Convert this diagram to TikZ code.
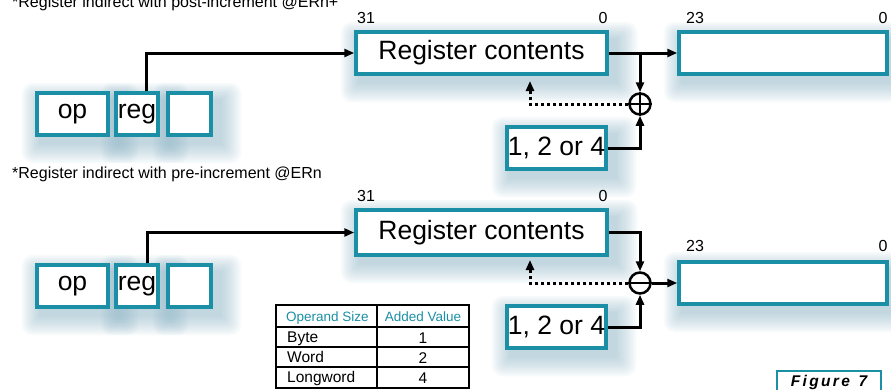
\documentclass[tikz,border=0pt]{standalone}
\usepackage{fontspec}
\setmainfont{Liberation Sans}
\usetikzlibrary{arrows.meta,backgrounds,calc}
\definecolor{boxteal}{HTML}{1A8FA5}
\definecolor{hazecol}{HTML}{86AFC1}

% soft bluish shadow below and to the right of a box
\newcommand\boxhaze[1]{%
  \foreach \k in {0,...,11}{%
    \fill[hazecol,opacity=0.055,rounded corners=\k pt]
      ($(#1.south west)+(4-1.6*\k,8+1.7*\k)$) rectangle
      ($(#1.north east)+(9+1.8*\k,8-1.5*\k)$);}}

\begin{document}
\begin{tikzpicture}[x=1pt,y=-1pt,
  box/.style={draw=boxteal,line width=3.5pt,fill=white,inner sep=0pt,
    font=\fontsize{26.5}{30}\selectfont},
  lbl/.style={inner sep=0pt,font=\fontsize{16}{18}\selectfont},
  conn/.style={line width=3pt,-{Triangle[length=10pt,width=8pt]}},
  dotline/.style={line width=3pt,dash pattern=on 3pt off 3pt,
    -{Triangle[length=10pt,width=8pt]}},
  opcirc/.style={circle,draw,line width=2.5pt,fill=white,minimum size=21pt,inner sep=0pt},
  tabtxt/.style={inner sep=0pt,anchor=base west,font=\fontsize{15.5}{17}\selectfont},
  tabval/.style={inner sep=0pt,anchor=base,font=\fontsize{15.5}{17}\selectfont},
  tabhead/.style={inner sep=0pt,anchor=base,text=boxteal,font=\fontsize{13.5}{15}\selectfont}]
\useasboundingbox (0,0) rectangle (891,389);
\clip (0,0) rectangle (891,389);

% ---------- post-increment ----------
\node[lbl,anchor=base west] (tA) at (12,7)
  {*Register indirect with post-increment @ERn+};
\node[lbl] (hA) at (366,18) {31};
\node[lbl] (lA) at (603,18) {0};
\node[lbl] (hoA) at (695,18) {23};
\node[lbl] (loA) at (883,18) {0};

\node[box,minimum width=251,minimum height=42] (regA) at (481.5,53) {Register contents};
\node[box,minimum width=208,minimum height=42] (outA) at (783,53) {};
\node[box,minimum width=71,minimum height=42] (opA) at (72.5,114) {op};
\node[box,minimum width=42,minimum height=42] (rgA) at (137,114) {reg};
\node[box,minimum width=43,minimum height=42] (emA) at (189.5,114) {};
\node[box,minimum width=99,minimum height=42] (incA) at (556.5,148) {1, 2 or 4};
\node[opcirc] (cA) at (640,104) {};
\draw[line width=2.5pt] (cA.north) -- (cA.south) (cA.west) -- (cA.east);

\coordinate (jA) at (640,53);
\coordinate (fbA) at (530,81);
\draw[conn] ([xshift=9pt]rgA.north) |- (regA.west);
\draw[conn] (regA.east) -- (outA.west);
\draw[conn] (jA) -- (cA.north);
\draw[conn] (incA.east) -| (cA.south);
\draw[dotline] (cA.west) -| (fbA);

% ---------- pre-increment ----------
\node[lbl,anchor=base west] (tB) at (12,178)
  {*Register indirect with pre-increment @ERn};
\node[lbl] (hB) at (366,196) {31};
\node[lbl] (lB) at (603,196) {0};
\node[lbl] (hoB) at (695,246) {23};
\node[lbl] (loB) at (883,246) {0};

\node[box,minimum width=251,minimum height=45] (regB) at (481.5,232.5) {Register contents};
\node[box,minimum width=208,minimum height=42] (outB) at (783,283) {};
\node[box,minimum width=71,minimum height=42] (opB) at (72.5,286) {op};
\node[box,minimum width=42,minimum height=42] (rgB) at (137,286) {reg};
\node[box,minimum width=43,minimum height=42] (emB) at (189.5,286) {};
\node[box,minimum width=99,minimum height=42] (incB) at (556.5,327) {1, 2 or 4};
\node[opcirc] (cB) at (640,283) {};
\draw[line width=2.5pt] (cB.west) -- (cB.east);

\coordinate (fbB) at (530,260);
\draw[conn] ([xshift=10pt]rgB.north) |- (regB.west);
\draw[conn] (regB.east) -| (cB.north);
\draw[conn] (cB.east) -- (outB.west);
\draw[conn] (incB.east) -| (cB.south);
\draw[dotline] (cB.west) -| (fbB);

% ---------- operand size table ----------
\draw[line width=1.2pt] (276,305) rectangle (469,388);
\draw[line width=1.2pt] (276,327) -- (469,327) (276,347) -- (469,347)
  (276,367) -- (469,367) (377,305) -- (377,388);
\node[tabhead,anchor=base west] (th1) at (286,321) {Operand Size};
\node[tabhead] (th2) at (423,321) {Added Value};
\node[tabtxt] (r1) at (287,342) {Byte};
\node[tabtxt] (r2) at (287,362) {Word};
\node[tabtxt] (r3) at (287,382) {Longword};
\node[tabval] (v1) at (423,343) {1};
\node[tabval] (v2) at (423,363) {2};
\node[tabval] (v3) at (423,383) {4};

% ---------- figure tag ----------
\node[draw=boxteal,line width=1.5pt,minimum width=104,minimum height=24,
  anchor=north west,inner sep=0pt] (fig) at (776,370) {};
\node[inner sep=0pt,anchor=base,font=\fontsize{15.5}{17}\selectfont\bfseries\itshape]
  (figt) at (829,386) {\addfontfeatures{LetterSpace=15}Figure\hspace{2pt} 7};

% ---------- shadows ----------
\begin{pgfonlayer}{background}
  \foreach \n in {regA,outA,opA,rgA,emA,incA,regB,outB,opB,rgB,emB,incB}{\boxhaze{\n}}
\end{pgfonlayer}
\end{tikzpicture}
\end{document}
